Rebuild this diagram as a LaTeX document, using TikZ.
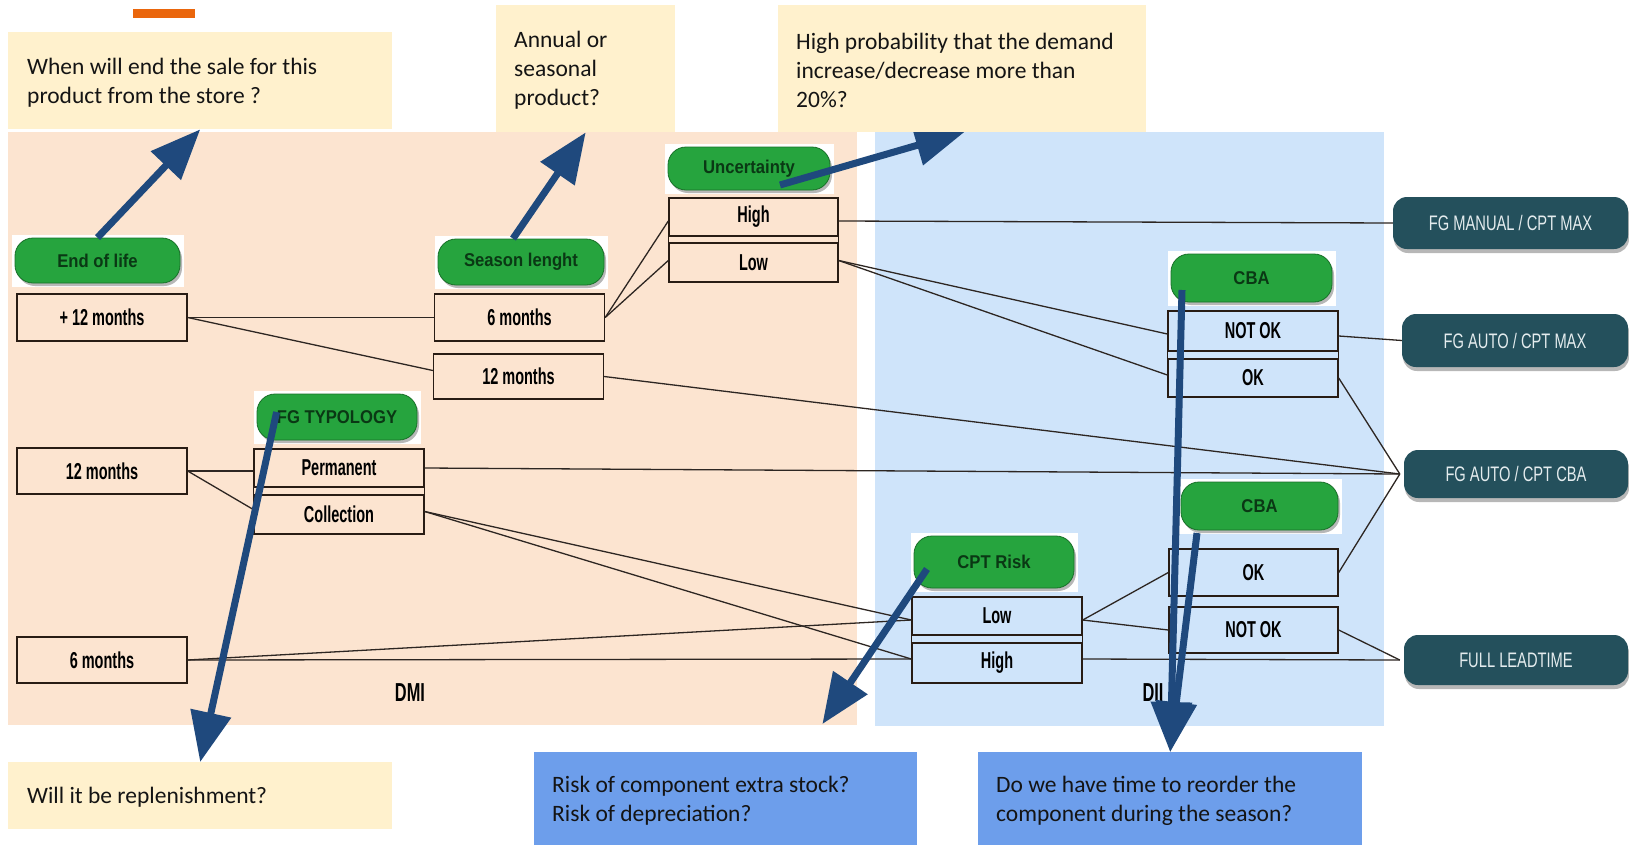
\documentclass[tikz,border=0pt]{standalone}
\usepackage{fontspec}
\setmainfont{Carlito}
\newfontfamily\boxfont[FakeStretch=0.63]{Liberation Sans}
\newfontfamily\pillfont[FakeStretch=0.9]{Liberation Sans}
\newfontfamily\tealfont[FakeStretch=0.7]{Liberation Sans}
\usetikzlibrary{arrows.meta,calc,shadows}
\pgfdeclarelayer{bg}
\pgfdeclarelayer{halo}
\pgfsetlayers{bg,halo,main}
\definecolor{peach}{RGB}{252,228,208}
\definecolor{lblue}{RGB}{207,228,250}
\definecolor{qyellow}{RGB}{255,241,205}
\definecolor{qblue}{RGB}{109,158,235}
\definecolor{obar}{RGB}{234,102,12}
\definecolor{pgreen}{RGB}{38,164,62}
\definecolor{pgreendark}{RGB}{24,112,40}
\definecolor{ptext}{RGB}{10,56,20}
\definecolor{tealc}{RGB}{36,80,92}
\definecolor{tealtext}{RGB}{228,236,238}
\definecolor{arrowblue}{RGB}{31,73,125}
\definecolor{boxline}{RGB}{40,28,20}
\definecolor{lineclr}{RGB}{45,38,34}
\begin{document}
\begin{tikzpicture}[x=1pt,y=-1pt,
  rbox/.style={draw=boxline,line width=1.4pt,minimum width=170pt,inner sep=0pt,
    font=\boxfont\bfseries\fontsize{23}{25}\selectfont,text=black},
  pill/.style={fill=pgreen,draw=pgreendark,line width=0.8pt,rounded corners=18pt,inner sep=0pt,
    text=ptext,font=\pillfont\bfseries\fontsize{18.5}{20}\selectfont,
    drop shadow={shadow xshift=2pt,shadow yshift=-3pt,opacity=0.4,fill=black!70}},
  tpill/.style={fill=tealc,rounded corners=14pt,inner sep=0pt,text=tealtext,
    font=\tealfont\fontsize{21}{23}\selectfont,
    drop shadow={shadow xshift=1pt,shadow yshift=-4pt,opacity=0.35,fill=black!80}},
  conn/.style={draw=lineclr,line width=1.3pt},
  bigarrow/.style={draw=arrowblue,line width=7pt,-{Triangle[length=50pt,width=40pt]}},
  qbox/.style={inner sep=0pt,anchor=north west},
  qtext/.style={inner sep=0pt,anchor=west,align=left,text=black!92,font=\fontsize{23.5}{29}\selectfont},
  lbl/.style={inner sep=0pt,font=\boxfont\bfseries\fontsize{26}{28}\selectfont}
]
\useasboundingbox (0,0) rectangle (1629,846);
\begin{pgfonlayer}{bg}
\fill[white] (0,0) rectangle (1629,846);
\fill[peach] (8,132) rectangle (857,725);
\fill[lblue] (875,132) rectangle (1384,726);
\end{pgfonlayer}
\fill[obar] (133,9) rectangle (195,18);

% ---- option boxes
\node[rbox,minimum height=47pt] (p12) at (102,317.5) {+ 12 months};
\node[rbox,minimum height=47pt] (s6) at (519.5,317.5) {6 months};
\node[rbox,minimum height=45pt] (s12) at (518.5,376.5) {12 months};
\node[rbox,minimum width=169pt,minimum height=38pt] (uH) at (753.5,217) {High};
\node[rbox,minimum width=169pt,minimum height=39pt] (uL) at (753.5,262.5) {Low};
\node[rbox,minimum height=40pt] (c1N) at (1253,331) {NOT OK};
\node[rbox,minimum height=38pt] (c1O) at (1253,378) {OK};
\node[rbox,minimum height=46pt] (m12) at (102,471) {12 months};
\node[rbox,minimum height=38pt] (tP) at (339,468) {Permanent};
\node[rbox,minimum height=39pt] (tC) at (339,514.5) {Collection};
\node[rbox,minimum height=46pt] (m6) at (102,660) {6 months};
\node[rbox,minimum height=38pt] (rL) at (997,616) {Low};
\node[rbox,minimum height=40pt] (rH) at (997,663) {High};
\node[rbox,minimum width=169pt,minimum height=47pt] (c2O) at (1253.5,572.5) {OK};
\node[rbox,minimum width=169pt,minimum height=46pt] (c2N) at (1253.5,630) {NOT OK};

% sides joining stacked pairs
\draw[draw=boxline,line width=1.4pt] (uH.south west) -- (uL.north west) (uH.south east) -- (uL.north east);
\draw[draw=boxline,line width=1.4pt] (c1N.south west) -- (c1O.north west) (c1N.south east) -- (c1O.north east);
\draw[draw=boxline,line width=1.4pt] (tP.south west) -- (tC.north west) (tP.south east) -- (tC.north east);
\draw[draw=boxline,line width=1.4pt] (rL.south west) -- (rH.north west) (rL.south east) -- (rH.north east);

% ---- green question pills
\node[pill,minimum width=165pt,minimum height=45pt] (EoL) at (97.5,260.5) {End of life};
\node[pill,minimum width=166pt,minimum height=46pt] (Sea) at (521,262) {Season lenght};
\node[pill,minimum width=162pt,minimum height=43pt] (Unc) at (749,168.5) {Uncertainty};
\node[pill,minimum width=160pt,minimum height=46pt] (FGT) at (337,417) {FG TYPOLOGY};
\node[pill,minimum width=161pt,minimum height=48pt] (CBAa) at (1251.5,278) {CBA};
\node[pill,minimum width=157pt,minimum height=48pt] (CBAb) at (1259.5,506) {CBA};
\node[pill,minimum width=160pt,minimum height=52pt] (CPT) at (994,562) {CPT Risk};
\begin{pgfonlayer}{halo}
\foreach \n in {EoL,Sea,Unc,FGT,CBAa,CBAb,CPT}{
  \fill[white] ($(\n.north west)+(-3,-3)$) rectangle ($(\n.south east)+(4,4)$);}
\end{pgfonlayer}

% ---- outcome pills
\node[tpill,minimum width=235pt,minimum height=52pt] (M1) at (1510.5,223) {FG MANUAL / CPT MAX};
\node[tpill,minimum width=226pt,minimum height=53pt] (M2) at (1515,340.5) {FG AUTO / CPT MAX};
\node[tpill,minimum width=224pt,minimum height=48pt] (M3) at (1516,474) {FG AUTO / CPT CBA};
\node[tpill,minimum width=224pt,minimum height=50pt] (M4) at (1516,660) {FULL LEADTIME};
\coordinate (cv) at ($(M3.west)+(-4,0)$);
\coordinate (cf) at ($(M4.west)+(-4,0)$);

% ---- connectors
\draw[conn] (p12.east) -- (s6.west);
\draw[conn] (p12.east) -- ($(s12.west)+(0,-6)$);
\draw[conn] (s6.east) -- ($(uH.west)+(0,4)$);
\draw[conn] (s6.east) -- ($(uL.west)+(0,-2)$);
\draw[conn] ($(uH.east)+(0,4)$) -- (M1.west);
\draw[conn] ($(uL.east)+(0,-2)$) -- ($(c1N.west)+(0,3)$);
\draw[conn] ($(uL.east)+(0,-2)$) -- ($(c1O.west)+(0,-3)$);
\draw[conn] ($(c1N.east)+(0,5)$) -- (M2.west);
\draw[conn] (c1O.east) -- (cv);
\draw[conn] (s12.east) -- (cv);
\draw[conn] (m12.east) -- (tP.west |- m12.east);
\draw[conn] (m12.east) -- ($(tC.west)+(0,-5)$);
\draw[conn] (tP.east) -- (cv);
\draw[conn] ($(tC.east)+(0,-3)$) -- ($(rL.west)+(0,4)$);
\draw[conn] ($(tC.east)+(0,-3)$) -- ($(rH.west)+(0,-4)$);
\draw[conn] (m6.east) -- ($(rL.west)+(0,4)$);
\draw[conn] (m6.east) -- ($(rH.west)+(0,-4)$);
\draw[conn] ($(rL.east)+(0,4)$) -- (c2O.west);
\draw[conn] ($(rL.east)+(0,4)$) -- (c2N.west);
\draw[conn] ($(rH.east)+(0,-4)$) -- (cf);
\draw[conn] (c2N.east) -- (cf);
\draw[conn] (c2O.east) -- (cv);

% ---- region labels
\node[lbl] (dmi) at (410,693) {DMI};
\node[lbl] (dii) at (1153,693) {DII};

% ---- question boxes (shapes)
\node[qbox,fill=qyellow,minimum width=384pt,minimum height=97pt] (Q1) at (8,32) {};
\node[qbox,fill=qyellow,minimum width=179pt,minimum height=127pt] (Q2) at (496,5) {};
\node[qbox,fill=qyellow,minimum width=368pt,minimum height=127pt] (Q3) at (778,5) {};
\node[qbox,fill=qyellow,minimum width=384pt,minimum height=67pt] (Q4) at (8,762) {};
\node[qbox,fill=qblue,minimum width=383pt,minimum height=93pt] (Q5) at (534,752) {};
\node[qbox,fill=qblue,minimum width=384pt,minimum height=93pt] (Q6) at (978,752) {};

% ---- big arrows
\coordinate (a3s) at ($(Unc.center)+(31,16.5)$);
\coordinate (a3e) at ($(Q3.south)+(3,-1)$);
\coordinate (a4s) at ($(FGT.west)+(20,-5)$);
\coordinate (a5s) at ($(CPT.center)+(-67,7)$);
\coordinate (a5e) at ($(Q5.north east)+(-95,-28)$);
\coordinate (a6s) at ($(CBAa.center)+(-69.5,12)$);
\coordinate (a7s) at ($(CBAb.center)+(-62.5,27)$);
\draw[bigarrow] (EoL.north) -- (Q1.south);
\draw[bigarrow] ($(Sea.north)+(-8,0)$) -- (Q2.south);
\draw[bigarrow] (a3s) -- (a3e);
\draw[bigarrow] (a4s) -- (Q4.north);
\draw[bigarrow] (a5s) -- (a5e);
\draw[bigarrow] (a6s) -- (Q6.north);
\draw[bigarrow] (a7s) -- (Q6.north);

% redraw Q3 over the arrow tip
\fill[qyellow] (Q3.north west) rectangle (Q3.south east);

% ---- question texts
\node[qtext] (t1) at ($(Q1.west)+(19,2)$) {When will end the sale for this\\product from the store ?};
\node[qtext] (t2) at ($(Q2.west)+(18,2)$) {Annual or\\seasonal\\product?};
\node[qtext] (t3) at ($(Q3.west)+(18,2)$) {High probability that the demand\\increase/decrease more than\\20\%?};
\node[qtext] (t4) at ($(Q4.west)+(19,2)$) {Will it be replenishment?};
\node[qtext] (t5) at ($(Q5.west)+(18,2)$) {Risk of component extra stock?\\Risk of depreciation?};
\node[qtext] (t6) at ($(Q6.west)+(18,2)$) {Do we have time to reorder the\\component during the season?};
\end{tikzpicture}
\end{document}
